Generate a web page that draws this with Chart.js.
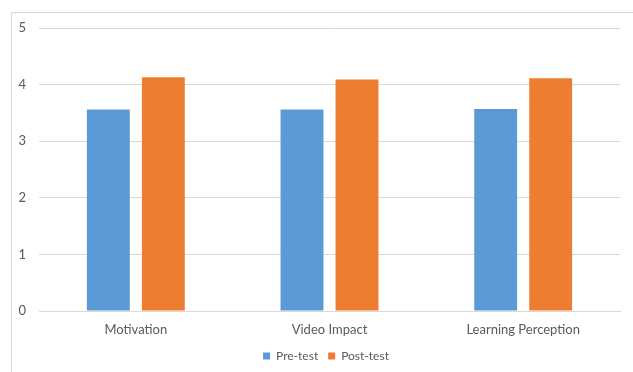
<!DOCTYPE html>
<html>
<head>
<meta charset="utf-8">
<script src="https://cdn.jsdelivr.net/npm/chart.js@4"></script>
<style>
  html, body { margin: 0; padding: 0; background: #fff; }
  #wrap { position: relative; width: 633px; height: 372px; }
  #frame {
    position: absolute; left: 11px; top: 12px; right: 0; bottom: 0;
    border-left: 1px solid #d9d9d9; border-top: 1px solid #d9d9d9;
  }
  #chartScores { position: absolute; left: 0; top: 0; }
</style>
</head>
<body>
<div id="wrap">
  <div id="frame"></div>
  <canvas id="chartScores" width="633" height="372"></canvas>
</div>
<script>
const categories = ["Motivation", "Video Impact", "Learning Perception"];
const preTest = [3.56, 3.56, 3.57];
const postTest = [4.13, 4.09, 4.11];
const yTicks = [0, 1, 2, 3, 4, 5];

const chartScoresElement = document.querySelector("#chartScores");

Chart.defaults.font.family = "Lato, 'Noto Sans', sans-serif";
Chart.defaults.font.size = 13;
Chart.defaults.color = "#595959";

// legend in the original sits centred under the plot, not the whole canvas
const shiftLegend = {
  id: "shiftLegend",
  afterLayout: (chart) => {
    chart.legend.left += 16;
    chart.legend.right += 16;
  },
};

const chartScores = new Chart(chartScoresElement, {
  type: "bar",
  data: {
    labels: categories,
    datasets: [
      {
        label: "Pre-test",
        data: preTest,
        backgroundColor: "#5b9bd5",
        categoryPercentage: 0.568,
        barPercentage: 0.78,
      },
      {
        label: "Post-test",
        data: postTest,
        backgroundColor: "#ed7d31",
        categoryPercentage: 0.568,
        barPercentage: 0.78,
      },
    ],
  },
  options: {
    responsive: false,
    animation: false,
    layout: {
      padding: { left: 0, right: 13, top: 28, bottom: 0 },
    },
    scales: {
      x: {
        grid: { display: false, drawTicks: false },
        border: { color: "#d9d9d9" },
        ticks: { padding: 11 },
        afterFit: (axis) => {
          axis.height = 29;
        },
      },
      y: {
        min: 0,
        max: 5,
        afterBuildTicks: (axis) => {
          axis.ticks = yTicks.map((v) => ({ value: v }));
        },
        grid: { color: "#d9d9d9", drawTicks: false },
        border: { display: false },
        ticks: { padding: 13 },
        afterFit: (axis) => {
          axis.width = 39;
        },
      },
    },
    plugins: {
      legend: {
        position: "bottom",
        labels: {
          boxWidth: 7,
          boxHeight: 7,
          padding: 10,
          font: { size: 12 },
        },
      },
      tooltip: { enabled: false },
    },
  },
  plugins: [shiftLegend],
});
</script>
</body>
</html>
